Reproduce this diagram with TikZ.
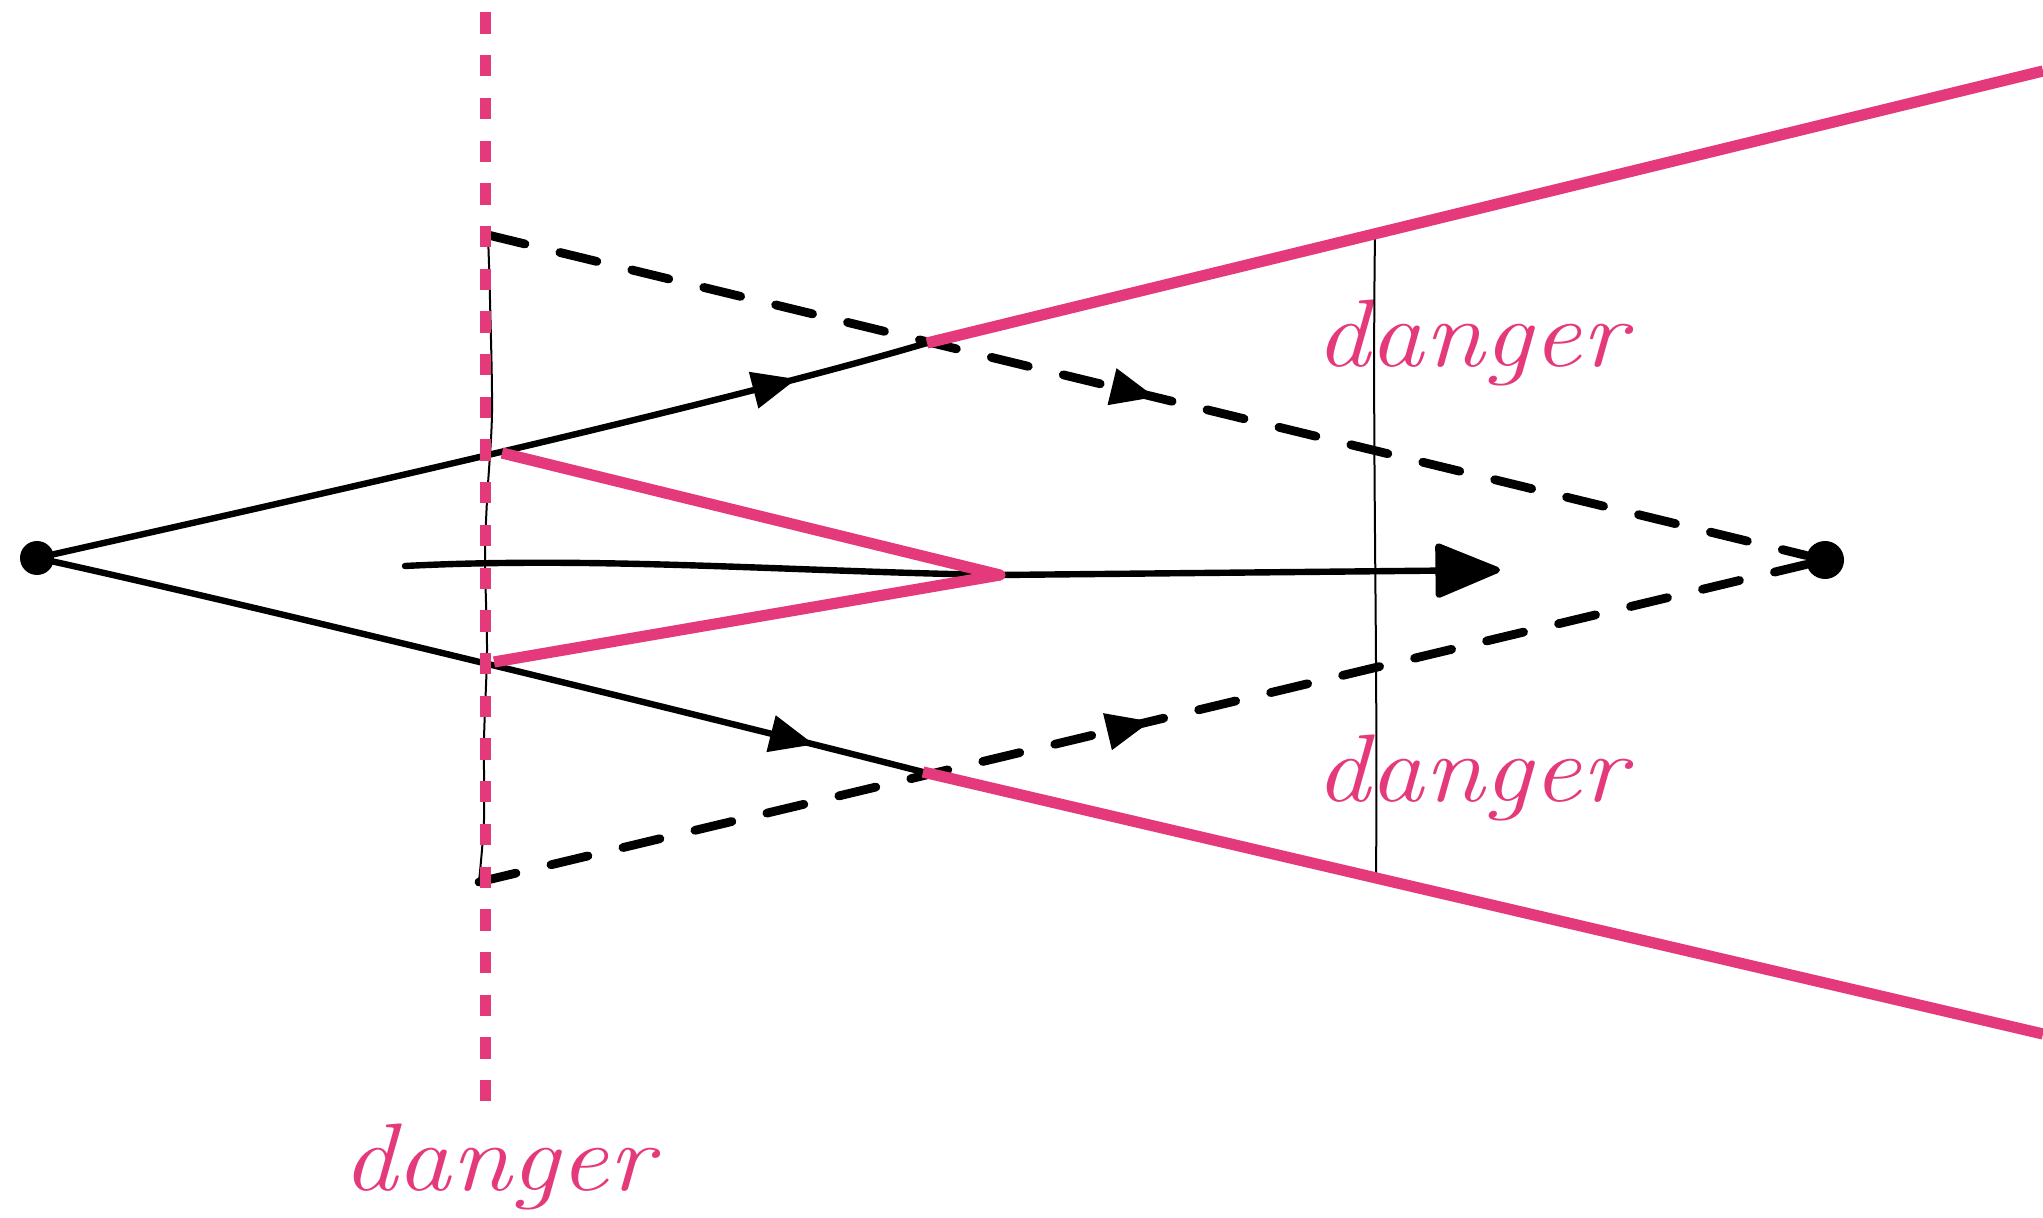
\documentclass[tikz,border=0pt]{standalone}
\usepackage{fontspec}
\usetikzlibrary{arrows.meta,decorations.markings}
\definecolor{dpink}{RGB}{228,58,124}
\begin{document}
\begin{tikzpicture}[x=0.5pt,y=-0.5pt,
  dot/.style={circle,fill=black,inner sep=0pt,minimum size=17pt},
  ray/.style={line width=3.2pt,line cap=round,line join=round},
  ghost/.style={line width=4.4pt,dash pattern=on 19pt off 18pt,line cap=round},
  thinline/.style={line width=1pt},
  pinkline/.style={dpink,line width=5.6pt,line join=round},
  pinkdash/.style={dpink,line width=5.5pt,dash pattern=on 10.65pt off 10.7pt},
  lbl/.style={text=dpink,font=\itshape\fontsize{48}{58}\selectfont,anchor=base,inner sep=0pt},
  midarrow/.style={postaction={decorate},decoration={markings,mark=at position #1 with {\fill[solid,line join=round] (4pt,0pt) -- (-18pt,9.5pt) -- (-18pt,-9.5pt) -- cycle;}}},
]
\useasboundingbox (0,0) rectangle (2043,1218);
% nodes and key points
\node[dot] (L) at (37,558) {};
\node[dot,minimum width=17pt,minimum height=19pt] (R) at (1825,560) {};
\coordinate (U) at (927,343);
\coordinate (D) at (923,772);
\coordinate (A) at (1000,575);
\coordinate (Vu) at (502,453);
\coordinate (Vd) at (494,662);
\coordinate (TL) at (488,235);
\coordinate (BL) at (479,882);
\coordinate (UE) at (2043,71);
\coordinate (DE) at (2043,1034);
\coordinate (MS) at (405,566);
\coordinate (MT) at (1500,570);
\coordinate (RT) at (1375,234);
\coordinate (RB) at (1376,878);
\coordinate (PT) at (485,12.5);
\coordinate (PB) at (485,1102);
% labels
\node[lbl] (d1) at (1471,367) {\scalebox{1.13}[1]{danger}};
\node[lbl] (d2) at (1471,801) {\scalebox{1.13}[1]{danger}};
\node[lbl] (d3) at (498,1190) {\scalebox{1.13}[1]{danger}};
% black rays
\draw[ray,midarrow=0.84] (L) .. controls (250,510) and (700,410) .. (U);
\draw[ray,midarrow=0.865] (L) .. controls (250,605) and (700,715) .. (D);
\draw[ray,-{Triangle[length=35pt,width=28pt,round]}] (MS) .. controls (600,556) and (800,572) .. (A) -- (MT);
% dashed rays
\draw[ghost,midarrow=0.5] (TL) -- (R);
\draw[ghost,midarrow=0.5] (BL) -- (R);
% thin verticals
\draw[thinline] plot[smooth] coordinates {(TL) (490,300) (492,413) (487,500) (485,560) (487,650) (484,740) (484,820) (BL)};
\draw[thinline] (RT) .. controls (1372,450) and (1378,650) .. (RB);
% pink
\draw[pinkline] (U) -- (UE);
\draw[pinkline] (D) -- (DE);
\draw[pinkline] (Vu) -- (A) -- (Vd);
\draw[pinkdash] (PT) -- (PB);
\end{tikzpicture}
\end{document}
